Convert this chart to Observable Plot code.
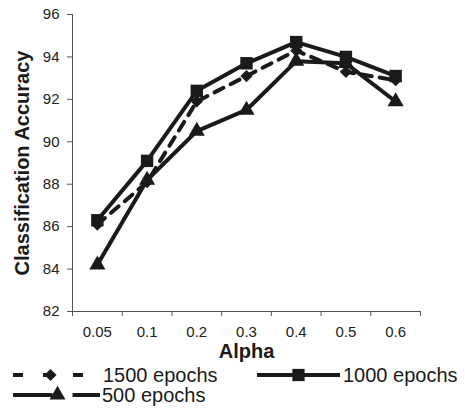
<!DOCTYPE html>
<html><head><meta charset="utf-8">
<script src="https://cdn.jsdelivr.net/npm/d3@7"></script>
<script src="https://cdn.jsdelivr.net/npm/@observablehq/plot@0.6"></script>
<style>
body{margin:0;background:#fff;font-family:"Liberation Sans",Arial,sans-serif;}
#wrap{width:465px;height:410px;position:relative;}
</style></head><body><div id="wrap"></div>
<script>
const alphas = ["0.05","0.1","0.2","0.3","0.4","0.5","0.6"];
const acc1500 = [86.1, 88.1, 91.9, 93.1, 94.3, 93.3, 92.9];
const acc1000 = [86.3, 89.1, 92.4, 93.7, 94.7, 94.0, 93.1];
const acc500  = [84.2, 88.2, 90.5, 91.5, 93.8, 93.7, 91.9];
const yTicks = [82, 84, 86, 88, 90, 92, 94, 96];
const seriesNames = ["1500 epochs", "1000 epochs", "500 epochs"];

const ink = "#1a1a1a";
const rows = (vals) => vals.map((v, i) => ({x: i + 0.5, y: v}));
const d1500 = rows(acc1500), d1000 = rows(acc1000), d500 = rows(acc500);

const chart = Plot.plot({
  width: 465, height: 364,
  marginLeft: 72, marginRight: 45, marginTop: 14, marginBottom: 53,
  style: {fontFamily: '"Liberation Sans", Arial, sans-serif', fontSize: "15px", color: "#222", background: "#fff", display: "block"},
  x: {type: "linear", domain: [0, alphas.length]},
  y: {domain: [82, 96]},
  marks: [
    Plot.axisY({ticks: yTicks, tickSize: 5, tickPadding: 8, label: null, stroke: "#555", fontSize: 15}),
    Plot.axisX({ticks: d3.range(0, alphas.length + 1), tickSize: 5, tickFormat: () => "", label: null, stroke: "#555"}),
    Plot.axisX({ticks: alphas.map((a, i) => i + 0.5), tickSize: 0, tickPadding: 15, tickFormat: (t) => alphas[Math.round(t - 0.5)], label: null, fontSize: 15}),
    Plot.ruleY([82], {stroke: "#555"}),
    Plot.ruleX([0], {stroke: "#555"}),
    Plot.line(d500, {x: "x", y: "y", stroke: ink, strokeWidth: 4}),
    Plot.dot(d500, {x: "x", y: "y", symbol: "triangle", r: 6, fill: ink}),
    Plot.line(d1500, {x: "x", y: "y", stroke: ink, strokeWidth: 4, strokeDasharray: "10,8"}),
    Plot.dot(d1500, {x: "x", y: "y", symbol: "diamond2", r: 5.5, fill: ink}),
    Plot.line(d1000, {x: "x", y: "y", stroke: ink, strokeWidth: 4}),
    Plot.dot(d1000, {x: "x", y: "y", symbol: "square", r: 7, fill: ink}),
    Plot.text(["Classification Accuracy"], {frameAnchor: "left", dx: -50, rotate: -90, fontSize: 20, fontWeight: "bold", fill: ink, textAnchor: "middle"}),
    Plot.text(["Alpha"], {frameAnchor: "bottom", dy: 40, lineAnchor: "middle", fontSize: 20, fontWeight: "bold", fill: ink})
  ]
});
const wrap = document.getElementById("wrap");
wrap.appendChild(chart);

// Legend below the plot
const top0 = 364;
const lg = d3.create("svg").attr("width", 465).attr("height", 46).style("display", "block")
  .style("font-family", '"Liberation Sans", Arial, sans-serif');
const items = [
  {name: seriesNames[0], x0: 13, x1: 88, y: 375, sym: d3.symbolDiamond2, size: 95, dash: "10,20", tx: 103},
  {name: seriesNames[1], x0: 257, x1: 340, y: 375, sym: d3.symbolSquare, size: 150, dash: null, tx: 343},
  {name: seriesNames[2], x0: 13, x1: 100, y: 395, sym: d3.symbolTriangle, size: 110, dash: null, tx: 102, gap: true}
];
items.forEach(it => {
  const y = it.y - top0;
  const cx = (it.x0 + it.x1) / 2;
  if (it.gap) {
    lg.append("line").attr("x1", it.x0).attr("x2", cx - 4).attr("y1", y).attr("y2", y).attr("stroke", ink).attr("stroke-width", 4);
    lg.append("line").attr("x1", cx + 16).attr("x2", it.x1).attr("y1", y).attr("y2", y).attr("stroke", ink).attr("stroke-width", 4);
  } else {
    lg.append("line").attr("x1", it.x0).attr("x2", it.x1).attr("y1", y).attr("y2", y)
      .attr("stroke", ink).attr("stroke-width", 4).attr("stroke-dasharray", it.dash);
  }
  lg.append("path").attr("d", d3.symbol(it.sym, it.size)()).attr("transform", `translate(${it.gap ? cx + 1 : cx},${y})`).attr("fill", ink);
  lg.append("text").attr("x", it.tx).attr("y", y).attr("dy", "0.35em").attr("font-size", 20).attr("fill", ink).text(it.name);
});
wrap.appendChild(lg.node());
</script></body></html>
